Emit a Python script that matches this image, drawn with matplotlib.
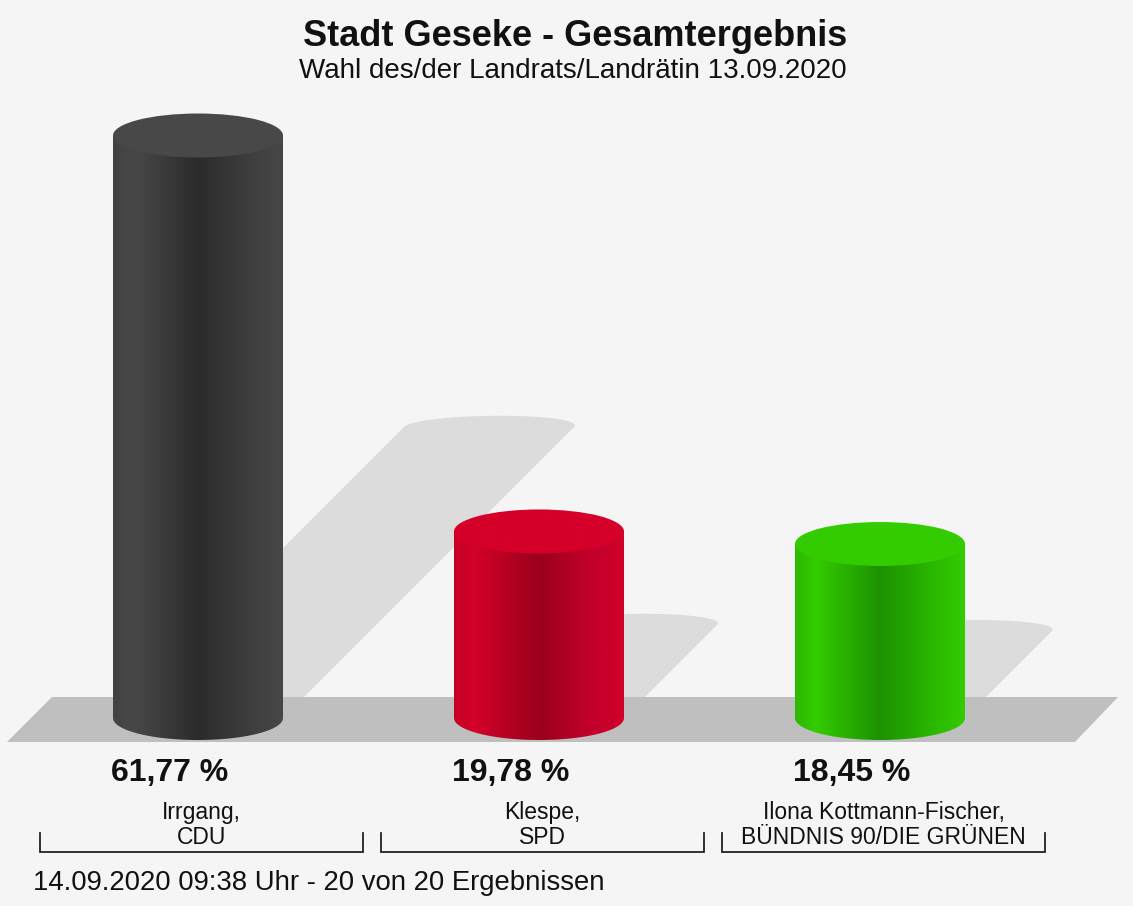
import numpy as np
import matplotlib
matplotlib.use("Agg")
import matplotlib.pyplot as plt
from matplotlib.patches import Polygon, Ellipse
from matplotlib.colors import to_rgb

plt.rcParams["font.family"] = ["Liberation Sans", "DejaVu Sans"]

# data
names = ["Irrgang,", "Klespe,", "Ilona Kottmann-Fischer,"]
parties = ["CDU", "SPD", "BÜNDNIS 90/DIE GRÜNEN"]
values = [61.77, 19.78, 18.45]
value_labels = ["61,77 %", "19,78 %", "18,45 %"]
title = "Stadt Geseke - Gesamtergebnis"
subtitle = "Wahl des/der Landrats/Landrätin 13.09.2020"
footer = "14.09.2020 09:38 Uhr - 20 von 20 Ergebnissen"

# shading stops (position across cylinder, colour)
stops = [
    [(0.0, "#424242"), (0.12, "#484848"), (0.5, "#2b2b2b"), (0.8, "#3e3e3e"), (1.0, "#474747")],
    [(0.0, "#c80026"), (0.12, "#d4002a"), (0.5, "#9a001b"), (0.8, "#c2002a"), (1.0, "#d0002a")],
    [(0.0, "#2eb800"), (0.12, "#33cc00"), (0.5, "#1c9200"), (0.8, "#2ab600"), (1.0, "#33cc00")],
]
tops = ["#484848", "#d40029", "#33cc00"]

bg = "#f5f5f5"
W, H = 1133, 906
PX_X = 341.0   # px per category
PX_Y = 9.43    # px per percent
X0, Y0 = 198.0, 718.0  # pixel position of category 0 / value 0

fig = plt.figure(figsize=(W / 100, H / 100), dpi=100, facecolor=bg)
ax = fig.add_axes([0, 0, 1, 1])
ax.set_xlim(-X0 / PX_X, (W - X0) / PX_X)
ax.set_ylim(-(H - Y0) / PX_Y, Y0 / PX_Y)
ax.axis("off")
ax.set_facecolor(bg)

half_w = 85 / PX_X
b = 22 / PX_Y
shadow_k = 0.5
t_lo = np.linspace(np.pi, 2 * np.pi, 60)
t_hi = np.linspace(0, np.pi, 60)


def gradient(st, n=200):
    pos = [s[0] for s in st]
    cols = np.array([to_rgb(s[1]) for s in st])
    xs = np.linspace(0, 1, n)
    img = np.stack([np.interp(xs, pos, cols[:, c]) for c in range(3)], axis=-1)
    return img[np.newaxis, :, :]


# floor
fl_y0, fl_y1 = -(742 - Y0) / PX_Y, (Y0 - 697) / PX_Y
floor = Polygon([((7 - X0) / PX_X, fl_y0), ((1075 - X0) / PX_X, fl_y0),
                 ((1118 - X0) / PX_X, fl_y1), ((52 - X0) / PX_X, fl_y1)],
                closed=True, facecolor="#bfbfbf", edgecolor="none", zorder=2)
ax.add_patch(floor)

for i, v in enumerate(values):
    x = i
    # shadow: cylinder silhouette, squashed and sheared
    us = np.concatenate([half_w * np.cos(t_lo), half_w * np.cos(t_hi)])
    ws = np.concatenate([b * np.sin(t_lo), v + b * np.sin(t_hi)])
    sx = x + us + shadow_k * ws * PX_Y / PX_X
    sy = shadow_k * ws
    ax.add_patch(Polygon(np.column_stack([sx, sy]), closed=True,
                         facecolor="#dcdcdc", edgecolor="none", zorder=1))

    # body
    body = Polygon(np.column_stack([x + half_w * np.cos(t_lo), b * np.sin(t_lo)]).tolist()
                   + [(x + half_w, v), (x - half_w, v)],
                   closed=True, facecolor="none", edgecolor="none", zorder=3)
    ax.add_patch(body)
    im = ax.imshow(gradient(stops[i]), extent=(x - half_w, x + half_w, -b, v),
                   aspect="auto", interpolation="bilinear", zorder=3)
    im.set_clip_path(body)
    ax.add_patch(Ellipse((x, v), 2 * half_w, 2 * b, facecolor=tops[i],
                         edgecolor="none", zorder=4))

    # value label
    ax.text(x - 28 / PX_X, -(773 - Y0) / PX_Y, value_labels[i], ha="center", va="center",
            fontsize=23, fontweight="bold", color="#111111")
    # candidate / party
    cx = x + 3.5 / PX_X
    ax.text(cx, -(812 - Y0) / PX_Y, names[i], ha="center", va="center",
            fontsize=16.5, color="#111111")
    ax.text(cx, -(838 - Y0) / PX_Y, parties[i], ha="center", va="center",
            fontsize=16.5, color="#111111")
    bw = 161.5 / PX_X
    ybr, ytk = -(852 - Y0) / PX_Y, -(833 - Y0) / PX_Y
    ax.plot([cx - bw, cx - bw, cx + bw, cx + bw], [ytk, ybr, ybr, ytk],
            color="#222222", lw=1.3, solid_joinstyle="miter", zorder=5)

fig.text(575 / W, 1 - 36 / H, title, ha="center", va="center", fontsize=26,
         fontweight="bold", color="#111111")
fig.text(573 / W, 1 - 71 / H, subtitle, ha="center", va="center", fontsize=20,
         color="#111111")
fig.text(33 / W, 1 - 883 / H, footer, ha="left", va="center", fontsize=19.8,
         color="#111111")

fig.savefig("out.png", dpi=100, facecolor=bg)
